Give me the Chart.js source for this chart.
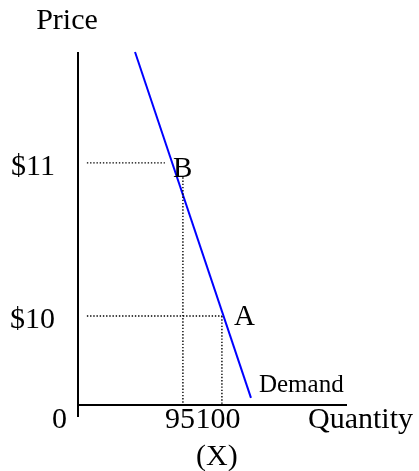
<!DOCTYPE html>
<html>
<head>
<meta charset="utf-8">
<script src="https://cdn.jsdelivr.net/npm/chart.js@4/dist/chart.umd.min.js"></script>
<style>
html,body{margin:0;padding:0;background:#fff;}
#wrap{width:419px;height:471px;}
</style>
</head>
<body>
<div id="wrap"><canvas id="c" width="419" height="471"></canvas></div>
<script>
// Axis positions are in schematic units (0-100 along each axis); labels are the printed values.
const quantityTickPos = [39, 53.5];
const quantityTickLabels = ['95', '100'];
const priceTickPos = [25.2, 68.6];
const priceTickLabels = ['$10', '$11'];
const demandQ = [21.2, 64.3];
const demandP = [100, 2];
const pointNames = ['A', 'B'];
const pointQ = [53.5, 32.3];
const pointP = [25.2, 68.6];
const guideStartQ = 3.3;
const guideBStartP = 64.5;

const serif = '"Liberation Serif", "Times New Roman", serif';
const dotted = {borderColor:'#000', borderWidth:1.4, borderDash:[1.4,1.8], pointRadius:0, showLine:true, fill:false};

const datasets = [
  // axes
  {data:[{x:0,y:100},{x:0,y:-3.4}], borderColor:'#000', borderWidth:2, pointRadius:0, showLine:true, clip:false},
  {data:[{x:0,y:0},{x:100,y:0}], borderColor:'#000', borderWidth:2, pointRadius:0, showLine:true, clip:false},
  // guides for B
  Object.assign({data:[{x:guideStartQ,y:pointP[1]},{x:pointQ[1],y:pointP[1]}]}, dotted),
  Object.assign({data:[{x:quantityTickPos[0],y:guideBStartP},{x:quantityTickPos[0],y:0}]}, dotted),
  // guides for A
  Object.assign({data:[{x:guideStartQ,y:pointP[0]},{x:pointQ[0],y:pointP[0]}]}, dotted),
  Object.assign({data:[{x:quantityTickPos[1],y:pointP[0]},{x:quantityTickPos[1],y:0}]}, dotted),
  // demand
  {data:[{x:demandQ[0],y:demandP[0]},{x:demandQ[1],y:demandP[1]}], borderColor:'#0000ff', borderWidth:2, pointRadius:0, showLine:true, clip:false}
];

const textPlugin = {
  id:'texts',
  afterDraw(chart){
    const ctx = chart.ctx, xs = chart.scales.x, ys = chart.scales.y;
    const x0 = xs.getPixelForValue(0), y0 = ys.getPixelForValue(0);
    ctx.save();
    ctx.fillStyle = '#000';
    ctx.textBaseline = 'alphabetic';
    // axis titles
    ctx.font = '30px ' + serif;
    ctx.textAlign = 'center';
    ctx.fillText('Price', x0 - 11, ys.getPixelForValue(100) - 23);
    ctx.textAlign = 'left';
    ctx.fillText('Quantity', xs.getPixelForValue(85.5), y0 + 23);
    // price ticks
    ctx.textAlign = 'right';
    priceTickPos.forEach((p,i)=>ctx.fillText(priceTickLabels[i], x0 - 23, ys.getPixelForValue(p) + 12));
    ctx.fillText('0', x0 - 11, y0 + 23);
    // quantity ticks
    ctx.textAlign = 'center';
    quantityTickPos.forEach((q,i)=>ctx.fillText(quantityTickLabels[i], xs.getPixelForValue(q) + (i===0 ? -3 : -4), y0 + 23));
    ctx.fillText('(X)', xs.getPixelForValue(quantityTickPos[1]) - 5, y0 + 60);
    // point labels
    ctx.font = '29px ' + serif;
    ctx.textAlign = 'left';
    ctx.fillText(pointNames[0], xs.getPixelForValue(pointQ[0]) + 12, ys.getPixelForValue(pointP[0]) + 9);
    ctx.fillText(pointNames[1], xs.getPixelForValue(pointQ[1]) + 8, ys.getPixelForValue(pointP[1]) + 14);
    // series label
    ctx.font = '25px ' + serif;
    ctx.fillText('Demand', xs.getPixelForValue(demandQ[1]) + 8, ys.getPixelForValue(demandP[1]) - 6);
    ctx.restore();
  }
};

new Chart(document.getElementById('c'), {
  type:'scatter',
  data:{datasets},
  options:{
    responsive:false,
    animation:false,
    events:[],
    layout:{padding:{left:78, right:72, top:52, bottom:66}},
    plugins:{legend:{display:false}, tooltip:{enabled:false}},
    scales:{
      x:{type:'linear', min:0, max:100, display:false},
      y:{type:'linear', min:0, max:100, display:false}
    }
  },
  plugins:[textPlugin]
});
</script>
</body>
</html>
